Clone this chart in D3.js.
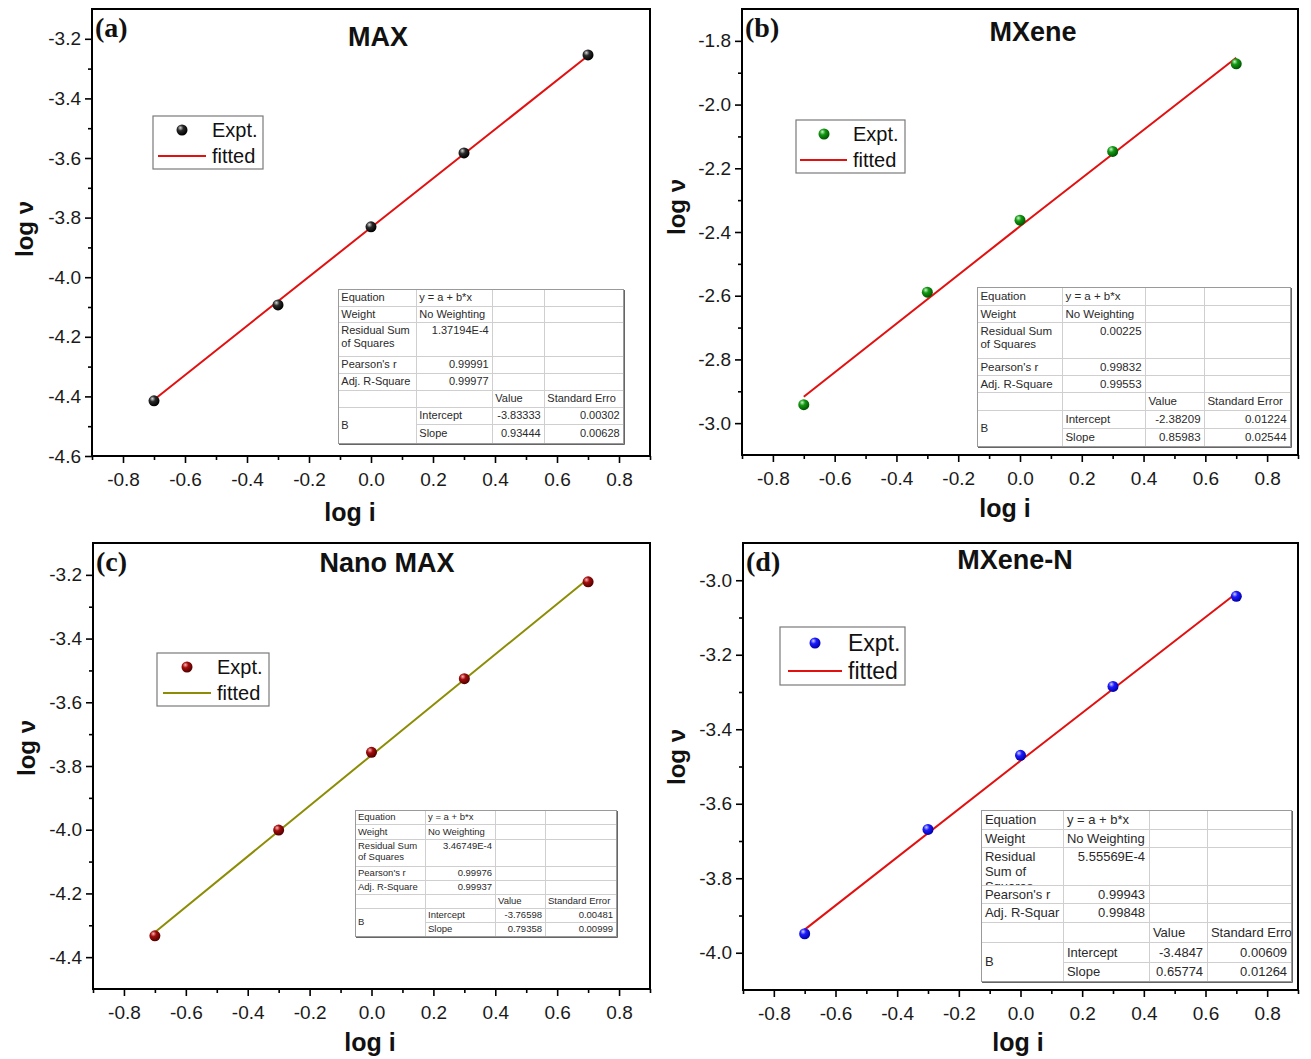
<!DOCTYPE html>
<html>
<head>
<meta charset="utf-8">
<script src="https://cdn.jsdelivr.net/npm/d3@7"></script>
<style>
  body { margin: 0; background: #fff; }
  svg { display: block; }
</style>
</head>
<body>
<svg id="chart" width="1311" height="1059"></svg>
<script>
// log of sweep current (log i) shared by every sample
const logI = [-0.7, -0.3, 0.0, 0.3, 0.7];

// measured log ν for each sample
const maxLogV     = [-4.415, -4.093, -3.831, -3.583, -3.254];
const mxeneLogV   = [-2.942, -2.589, -2.363, -2.147, -1.872];
const nanoMaxLogV = [-4.333, -4.001, -3.757, -3.526, -3.222];
const mxeneNLogV  = [-3.949, -3.669, -3.470, -3.285, -3.043];

// fitted straight lines, sampled at the ends and at the intercept (log i = 0)
const fitLogI     = [-0.7, 0.0, 0.7];
const maxFit      = [-4.411, -3.83333, -3.257];
const mxeneFit    = [-2.917, -2.38209, -1.853];
const nanoMaxFit  = [-4.322, -3.76598, -3.212];
const mxeneNFit   = [-3.938, -3.4847, -3.035];

// tick values
const xTicks       = [-0.8, -0.6, -0.4, -0.2, 0.0, 0.2, 0.4, 0.6, 0.8];
const yTicksMax    = [-4.6, -4.4, -4.2, -4.0, -3.8, -3.6, -3.4, -3.2];
const yTicksMXene  = [-3.0, -2.8, -2.6, -2.4, -2.2, -2.0, -1.8];
const yTicksNano   = [-4.4, -4.2, -4.0, -3.8, -3.6, -3.4, -3.2];
const yTicksMXeneN = [-4.0, -3.8, -3.6, -3.4, -3.2, -3.0];

// linear-fit report: residual SS, Pearson r, adj. R², intercept, intercept error, slope, slope error
const statsMax    = ["1.37194E-4", "0.99991", "0.99977", "-3.83333", "0.00302", "0.93444", "0.00628"];
const statsMXene  = ["0.00225", "0.99832", "0.99553", "-2.38209", "0.01224", "0.85983", "0.02544"];
const statsNano   = ["3.46749E-4", "0.99976", "0.99937", "-3.76598", "0.00481", "0.79358", "0.00999"];
const statsMXeneN = ["5.55569E-4", "0.99943", "0.99848", "-3.4847", "0.00609", "0.65774", "0.01264"];

const SANS = "'Liberation Sans', Arial, sans-serif";
const SERIF = "'Liberation Serif', 'Times New Roman', serif";

const panels = [
  {
    tag: "(a)", title: "MAX", values: maxLogV, fit: maxFit, yTicks: yTicksMax,
    yDomain: [-4.6, -3.1], frame: { l: 92, r: 650, t: 9, b: 456 },
    marker: ["#d8d8d8", "#2a2a2a", "#000000"], lineColor: "#e31010",
    titleX: 378, titleY: 46, ylab: [25, 229], xlab: [350, 521],
    legend: { x: 153, y: 116, w: 110, h: 53, fs: 20, mx: 182, my: 130, lx0: 158, lx1: 206, ly: 156, tx: 212 },
    table: { cols: [338, 416, 492, 544, 623], rows: [289, 306, 322, 356, 373, 390, 407, 424, 443], fs: 11,
             resid: ["Residual Sum", "of Squares"], err: "Standard Erro", adj: "Adj. R-Square" },
    stats: statsMax
  },
  {
    tag: "(b)", title: "MXene", values: mxeneLogV, fit: mxeneFit, yTicks: yTicksMXene,
    yDomain: [-3.1, -1.7], frame: { l: 742, r: 1298, t: 9, b: 455 },
    marker: ["#c8f5c8", "#139a13", "#005400"], lineColor: "#e31010",
    titleX: 1033, titleY: 41, ylab: [677, 207], xlab: [1005, 517],
    legend: { x: 796, y: 120, w: 109, h: 53, fs: 20, mx: 824, my: 134, lx0: 800, lx1: 847, ly: 160, tx: 853 },
    table: { cols: [977, 1062, 1145, 1204, 1290], rows: [287, 305, 322, 358, 375, 392, 410, 428, 446], fs: 11.5,
             resid: ["Residual Sum", "of Squares"], err: "Standard Error", adj: "Adj. R-Square" },
    stats: statsMXene
  },
  {
    tag: "(c)", title: "Nano MAX", values: nanoMaxLogV, fit: nanoMaxFit, yTicks: yTicksNano,
    yDomain: [-4.5, -3.1], frame: { l: 93, r: 650, t: 543, b: 989 },
    marker: ["#ffb4b4", "#a30c0c", "#520000"], lineColor: "#8d8d05",
    titleX: 387, titleY: 572, ylab: [27, 748], xlab: [370, 1051],
    legend: { x: 157, y: 653, w: 112, h: 53, fs: 20, mx: 187, my: 667, lx0: 163, lx1: 211, ly: 693, tx: 217 },
    table: { cols: [355, 425, 495, 545, 616], rows: [810, 824, 839, 866, 880, 894, 908, 922, 936], fs: 9.5,
             resid: ["Residual Sum", "of Squares"], err: "Standard Error", adj: "Adj. R-Square" },
    stats: statsNano
  },
  {
    tag: "(d)", title: "MXene-N", values: mxeneNLogV, fit: mxeneNFit, yTicks: yTicksMXeneN,
    yDomain: [-4.1, -2.9], frame: { l: 743, r: 1298, t: 543, b: 990 },
    marker: ["#cfd0ff", "#1c1cff", "#0000a8"], lineColor: "#e31010",
    titleX: 1015, titleY: 569, ylab: [677, 757], xlab: [1018, 1051],
    legend: { x: 780, y: 627, w: 125, h: 58, fs: 23, mx: 815, my: 643, lx0: 788, lx1: 842, ly: 671, tx: 848 },
    table: { cols: [981, 1063, 1149, 1207, 1291], rows: [810, 829, 847, 885, 903, 922, 942, 962, 981], fs: 13,
             resid: ["Residual", "Sum of", "Squares"], err: "Standard Erro", adj: "Adj. R-Squar" },
    stats: statsMXeneN
  }
];

const svg = d3.select("#chart");
const defs = svg.append("defs");
const fmt = d => d.toFixed(1);

panels.forEach((p, pi) => {
  const f = p.frame;
  const x = d3.scaleLinear().domain([-0.9, 0.9]).range([f.l, f.r]);
  const y = d3.scaleLinear().domain(p.yDomain).range([f.b, f.t]);
  const g = svg.append("g");

  // shaded sphere marker
  const gid = "sphere" + pi;
  const grad = defs.append("radialGradient").attr("id", gid)
    .attr("cx", "38%").attr("cy", "35%").attr("r", "65%").attr("fx", "35%").attr("fy", "30%");
  grad.append("stop").attr("offset", "0%").attr("stop-color", p.marker[0]);
  grad.append("stop").attr("offset", "40%").attr("stop-color", p.marker[1]);
  grad.append("stop").attr("offset", "100%").attr("stop-color", p.marker[2]);

  // minor ticks
  const xMinor = d3.range(-9, 10).map(d => d / 10).filter(v => !xTicks.some(t => Math.abs(t - v) < 1e-9));
  const y0 = Math.round(p.yDomain[0] * 10), y1 = Math.round(p.yDomain[1] * 10);
  const yMinor = d3.range(y0 + 1, y1).map(d => d / 10).filter(v => !p.yTicks.some(t => Math.abs(t - v) < 1e-9));

  const xAxis = g.append("g").attr("transform", `translate(0,${f.b})`)
    .call(d3.axisBottom(x).tickValues(xTicks).tickFormat(fmt).tickSize(7).tickPadding(10));
  const xAxisMinor = g.append("g").attr("transform", `translate(0,${f.b})`)
    .call(d3.axisBottom(x).tickValues(xMinor).tickFormat("").tickSize(4));
  const yAxis = g.append("g").attr("transform", `translate(${f.l},0)`)
    .call(d3.axisLeft(y).tickValues(p.yTicks).tickFormat(fmt).tickSize(7).tickPadding(4));
  const yAxisMinor = g.append("g").attr("transform", `translate(${f.l},0)`)
    .call(d3.axisLeft(y).tickValues(yMinor).tickFormat("").tickSize(4));

  [xAxis, xAxisMinor, yAxis, yAxisMinor].forEach(a => {
    a.select(".domain").remove();
    a.selectAll(".tick line").attr("stroke", "#000").attr("stroke-width", 1.6);
    a.selectAll(".tick text").attr("fill", "#1a1a1a").style("font-family", SANS).style("font-size", "19px");
  });

  // frame
  g.append("rect").attr("x", f.l).attr("y", f.t).attr("width", f.r - f.l).attr("height", f.b - f.t)
    .attr("fill", "none").attr("stroke", "#000").attr("stroke-width", 2);

  // fitted line
  const line = d3.line().x((d, i) => x(fitLogI[i])).y(d => y(d));
  g.append("path").datum(p.fit).attr("d", line)
    .attr("fill", "none").attr("stroke", p.lineColor).attr("stroke-width", 2);

  // experimental points
  g.selectAll("circle.pt").data(p.values).join("circle").attr("class", "pt")
    .attr("cx", (d, i) => x(logI[i])).attr("cy", d => y(d)).attr("r", 5.5)
    .attr("fill", `url(#${gid})`);

  // panel tag and title
  g.append("text").attr("x", f.l + 3).attr("y", f.t + 28).text(p.tag)
    .style("font-family", SERIF).style("font-weight", "bold").style("font-size", "28px").attr("fill", "#111");
  g.append("text").attr("x", p.titleX).attr("y", p.titleY).attr("text-anchor", "middle").text(p.title)
    .style("font-family", SANS).style("font-weight", "bold").style("font-size", "27px").attr("fill", "#111");

  // axis titles
  g.append("text").attr("x", p.xlab[0]).attr("y", p.xlab[1]).attr("text-anchor", "middle").text("log i")
    .style("font-family", SANS).style("font-weight", "bold").style("font-size", "25px").attr("fill", "#111");
  g.append("text").attr("transform", `translate(${p.ylab[0] + 8},${p.ylab[1]}) rotate(-90)`)
    .attr("text-anchor", "middle").text("log ν")
    .style("font-family", SANS).style("font-weight", "bold").style("font-size", "24px").attr("fill", "#111");

  // legend
  const L = p.legend;
  const lg = g.append("g");
  lg.append("rect").attr("x", L.x).attr("y", L.y).attr("width", L.w).attr("height", L.h)
    .attr("fill", "#fff").attr("stroke", "#7a7a7a").attr("stroke-width", 1.2);
  lg.append("circle").attr("cx", L.mx).attr("cy", L.my).attr("r", 5.5).attr("fill", `url(#${gid})`);
  lg.append("line").attr("x1", L.lx0).attr("x2", L.lx1).attr("y1", L.ly).attr("y2", L.ly)
    .attr("stroke", p.lineColor).attr("stroke-width", 2);
  lg.append("text").attr("x", L.tx).attr("y", L.my).attr("dy", "0.35em").text("Expt.")
    .style("font-family", SANS).style("font-size", L.fs + "px").attr("fill", "#111");
  lg.append("text").attr("x", L.tx).attr("y", L.ly).attr("dy", "0.35em").text("fitted")
    .style("font-family", SANS).style("font-size", L.fs + "px").attr("fill", "#111");

  // fit report table
  drawTable(g, p, pi);
});

function drawTable(g, p, pi) {
  const T = p.table, C = T.cols, R = T.rows, fs = T.fs, s = p.stats;
  const tg = g.append("g");
  tg.append("rect").attr("x", C[0]).attr("y", R[0]).attr("width", C[4] - C[0]).attr("height", R[8] - R[0])
    .attr("fill", "#fff");

  // inner grid
  const grid = "#cfcfcf";
  for (let r = 1; r < 8; r++) {
    const xStart = r === 7 ? C[1] : C[0];
    tg.append("line").attr("x1", xStart).attr("x2", C[4]).attr("y1", R[r] + 0.5).attr("y2", R[r] + 0.5)
      .attr("stroke", grid).attr("stroke-width", 1);
  }
  for (let c = 1; c < 4; c++) {
    tg.append("line").attr("x1", C[c] + 0.5).attr("x2", C[c] + 0.5).attr("y1", R[0]).attr("y2", R[8])
      .attr("stroke", grid).attr("stroke-width", 1);
  }
  // outer border with a slight shadow on the right and bottom
  tg.append("rect").attr("x", C[0] + 0.5).attr("y", R[0] + 0.5).attr("width", C[4] - C[0]).attr("height", R[8] - R[0])
    .attr("fill", "none").attr("stroke", "#9a9a9a").attr("stroke-width", 1);
  tg.append("path").attr("d", `M${C[4] + 1.5},${R[0] + 1}V${R[8] + 1.5}H${C[0] + 1}`)
    .attr("fill", "none").attr("stroke", "#666").attr("stroke-width", 1);

  const rowH = R[1] - R[0];
  const pad = Math.max(3, fs * 0.3);
  const cells = [
    [0, 0, "Equation", "start"], [0, 1, "y = a + b*x", "start"],
    [1, 0, "Weight", "start"], [1, 1, "No Weighting", "start"],
    [2, 1, s[0], "end"],
    [3, 0, "Pearson's r", "start"], [3, 1, s[1], "end"],
    [4, 0, T.adj, "start"], [4, 1, s[2], "end"],
    [5, 2, "Value", "start"], [5, 3, T.err, "start"],
    [6, 1, "Intercept", "start"], [6, 2, s[3], "end"], [6, 3, s[4], "end"],
    [7, 1, "Slope", "start"], [7, 2, s[5], "end"], [7, 3, s[6], "end"]
  ];
  const txt = (sel) => sel.style("font-family", SANS).style("font-size", fs + "px").attr("fill", "#2a2a2a");
  cells.forEach(([r, c, t, anchor]) => {
    const h = r === 2 ? rowH : (R[r + 1] - R[r]);
    const yy = R[r] + h / 2 + fs * 0.36;
    const xx = anchor === "start" ? C[c] + pad : C[c + 1] - pad;
    txt(tg.append("text").attr("x", xx).attr("y", yy).attr("text-anchor", anchor).text(t));
  });
  // "B" spans the last two rows
  txt(tg.append("text").attr("x", C[0] + pad).attr("y", (R[6] + R[8]) / 2 + fs * 0.36).text("B"));

  // multi-line residual label, clipped to its cell
  const cid = "residClip" + pi;
  defs.append("clipPath").attr("id", cid).append("rect")
    .attr("x", C[0]).attr("y", R[2]).attr("width", C[1] - C[0]).attr("height", R[3] - R[2]);
  const rt = txt(tg.append("text").attr("clip-path", `url(#${cid})`));
  T.resid.forEach((line, i) => {
    rt.append("tspan").attr("x", C[0] + pad).attr("y", R[2] + rowH / 2 + fs * 0.36 + i * fs * 1.15).text(line);
  });
}
</script>
</body>
</html>
